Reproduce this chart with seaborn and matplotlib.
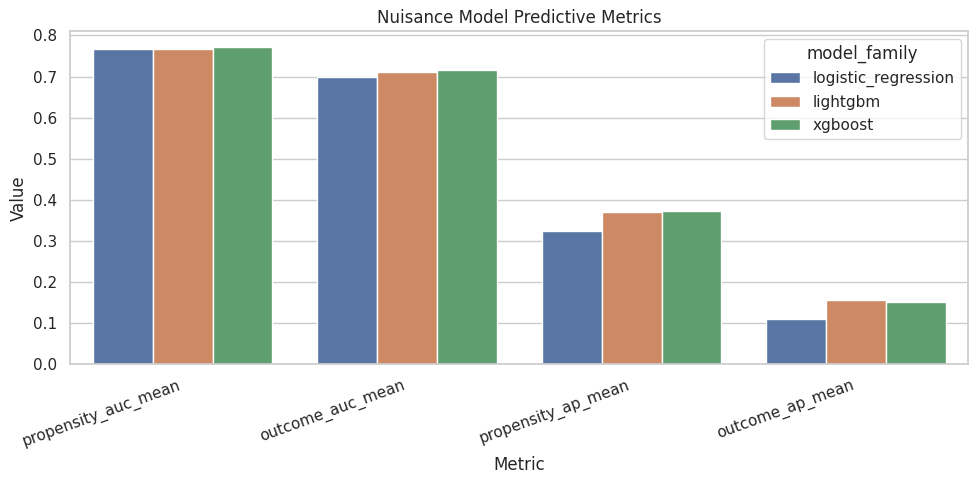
import pandas as pd
import matplotlib.pyplot as plt
import seaborn as sns

sns.set_theme(style='whitegrid')

metrics = ['propensity_auc_mean', 'outcome_auc_mean', 'propensity_ap_mean', 'outcome_ap_mean']
families = ['logistic_regression', 'lightgbm', 'xgboost']
logistic_regression = [0.768, 0.698, 0.324, 0.110]
lightgbm = [0.766, 0.712, 0.371, 0.156]
xgboost = [0.771, 0.715, 0.373, 0.153]

rows = []
for fam, vals in zip(families, [logistic_regression, lightgbm, xgboost]):
    for m, v in zip(metrics, vals):
        rows.append({'metric': m, 'model_family': fam, 'value': v})
df = pd.DataFrame(rows)

fig, ax = plt.subplots(figsize=(9.79, 4.84), dpi=100)
sns.barplot(data=df, x='metric', y='value', hue='model_family', ax=ax)
ax.set_title('Nuisance Model Predictive Metrics')
ax.set_xlabel('Metric')
ax.set_ylabel('Value')
plt.setp(ax.get_xticklabels(), rotation=20, ha='right')
fig.subplots_adjust(left=0.072, right=0.989, top=0.935, bottom=0.247)
plt.savefig('out.png', dpi=100)
